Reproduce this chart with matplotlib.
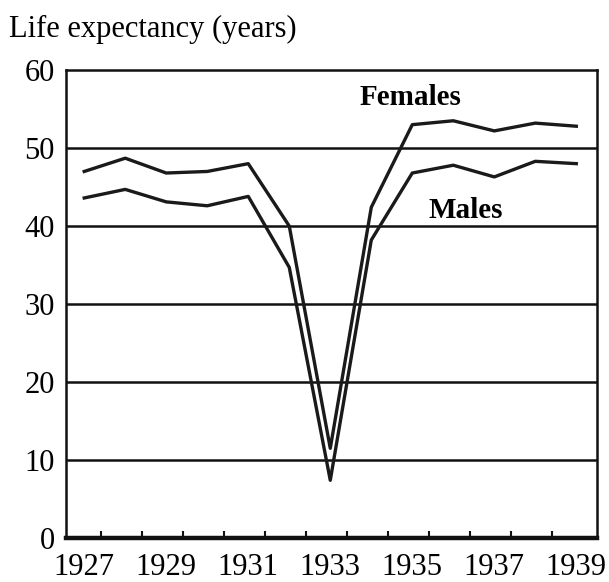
import matplotlib.pyplot as plt
import numpy as np

# data
years = [1927, 1928, 1929, 1930, 1931, 1932, 1933, 1934, 1935, 1936, 1937, 1938, 1939]
females = [47.0, 48.7, 46.8, 47.0, 48.0, 40.0, 11.5, 42.4, 53.0, 53.5, 52.2, 53.2, 52.8]
males = [43.6, 44.7, 43.1, 42.6, 43.8, 34.7, 7.4, 38.2, 46.8, 47.8, 46.3, 48.3, 48.0]
year_labels = [1927, 1929, 1931, 1933, 1935, 1937, 1939]
y_ticks = [0, 10, 20, 30, 40, 50, 60]

plt.rcParams['font.family'] = ['Liberation Serif', 'DejaVu Serif']

fig = plt.figure(figsize=(6.09, 5.82), dpi=100)
ax = fig.add_axes([0.108, 0.0756, 0.872, 0.804])

# horizontal grid lines
for v in y_ticks[1:-1]:
    ax.axhline(v, color='#111111', lw=1.8, zorder=1)

ax.plot(years, females, color='#1a1a1a', lw=2.4, zorder=3)
ax.plot(years, males, color='#1a1a1a', lw=2.4, zorder=3)

ax.text(1934.95, 56.5, 'Females', fontsize=21, fontweight='bold', ha='center', va='center')
ax.text(1936.3, 42.0, 'Males', fontsize=21, fontweight='bold', ha='center', va='center')

ax.set_xlim(1926.55, 1939.5)
ax.set_ylim(0, 60)

ax.set_yticks(y_ticks)
ax.set_yticklabels([str(v) for v in y_ticks], fontsize=22)
ax.tick_params(axis='y', length=0, pad=8)

ax.set_xticks(year_labels)
ax.set_xticklabels([str(y) for y in year_labels], fontsize=22)
ax.tick_params(axis='x', which='major', length=0, pad=11)
# small marks along the base, slightly off the labels as in the source
ax.set_xticks(np.array(years[:-1]) + 0.4, minor=True)
ax.tick_params(axis='x', which='minor', direction='in', length=5, width=1.5, color='#111111')

for side in ['left', 'right', 'top']:
    ax.spines[side].set_linewidth(1.8)
    ax.spines[side].set_color('#111111')
ax.spines['bottom'].set_linewidth(3.2)
ax.spines['bottom'].set_color('#111111')

fig.text(0.015, 0.95, 'Life expectancy (years)', fontsize=22, ha='left', va='center')

fig.savefig('out.png', dpi=100)
